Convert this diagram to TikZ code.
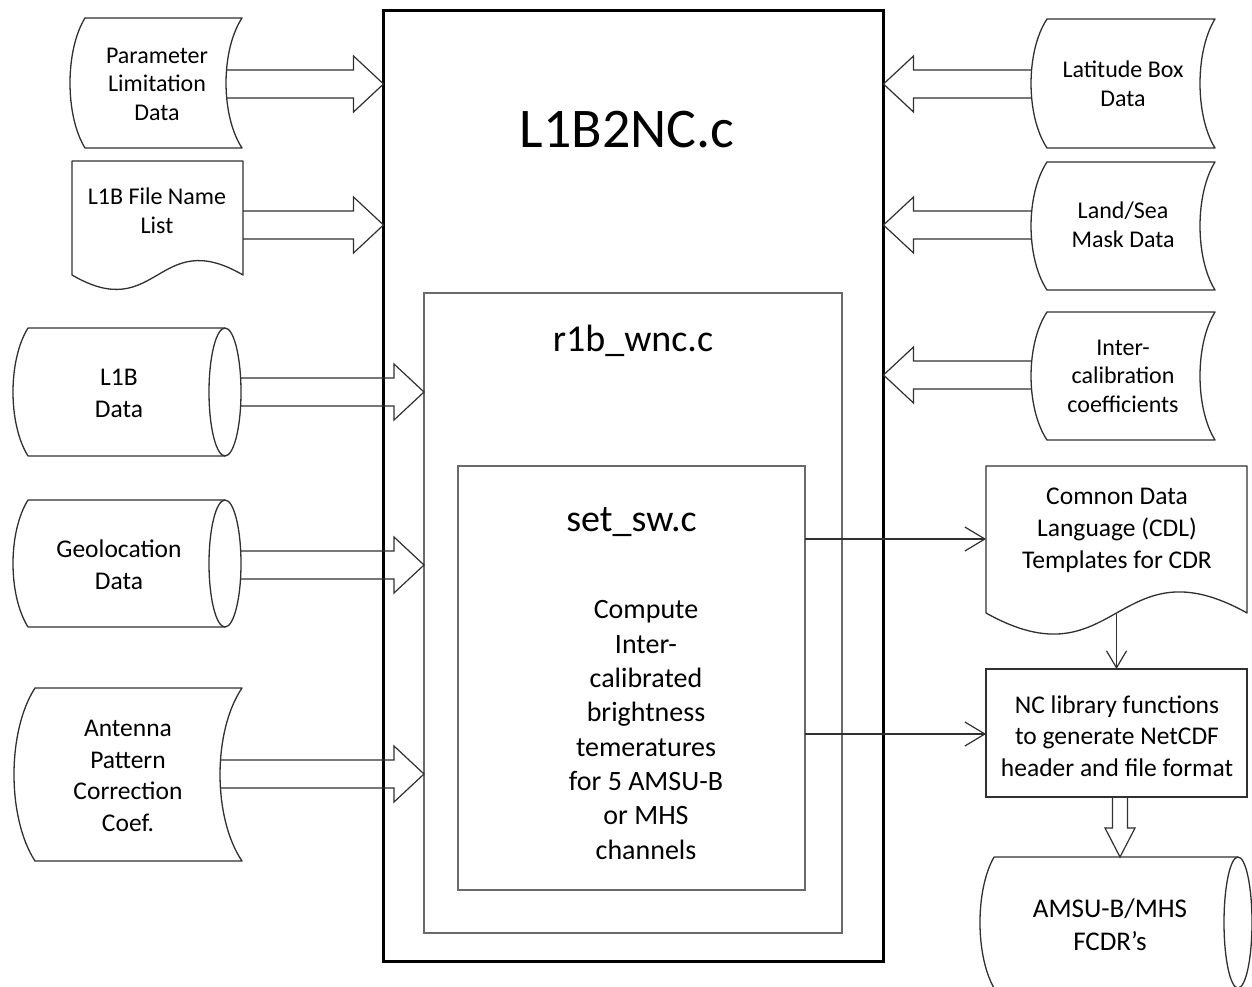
\documentclass[tikz,border=0pt]{standalone}
\usepackage{fontspec}
\setmainfont{Carlito}
\usetikzlibrary{arrows.meta,calc}
\definecolor{lineg}{HTML}{303030}
\definecolor{boxg}{HTML}{6A6A6A}
\tikzset{
  shp/.style={draw=lineg, line width=1.3pt, line join=round},
  txt/.style={align=center, inner sep=0pt, text=black},
  fa/.style={font=\fontsize{24}{28.5}\selectfont},
  fb/.style={font=\fontsize{25.5}{32}\selectfont},
  blockR/.style={draw=lineg, line width=1.2pt, line join=miter, to path={let \p1=(\tikztostart), \p2=(\tikztotarget) in
     (\x1,\y1+14pt) -- (\x2-30pt,\y1+14pt) -- (\x2-30pt,\y1+28pt) -- (\x2,\y1) -- (\x2-30pt,\y1-28pt) -- (\x2-30pt,\y1-14pt) -- (\x1,\y1-14pt)}},
  blockL/.style={draw=lineg, line width=1.2pt, line join=miter, to path={let \p1=(\tikztostart), \p2=(\tikztotarget) in
     (\x1,\y1+14pt) -- (\x2+30pt,\y1+14pt) -- (\x2+30pt,\y1+28pt) -- (\x2,\y1) -- (\x2+30pt,\y1-28pt) -- (\x2+30pt,\y1-14pt) -- (\x1,\y1-14pt)}},
  blockD/.style={draw=lineg, line width=1.2pt, line join=miter, to path={let \p1=(\tikztostart), \p2=(\tikztotarget) in
     (\x1+7.5pt,\y1) -- (\x1+7.5pt,\y2+29pt) -- (\x1+15pt,\y2+29pt) -- (\x1,\y2) -- (\x1-15pt,\y2+29pt) -- (\x1-7.5pt,\y2+29pt) -- (\x1-7.5pt,\y1)}},
  thinarr/.style={draw=lineg, line width=1.2pt, -{Straight Barb[length=20pt,width=24pt,line width=1.2pt]}},
  thinarrd/.style={draw=lineg, line width=1.2pt, -{Straight Barb[length=17pt,width=20pt,line width=1.2pt]}},
}
\begin{document}
\begin{tikzpicture}[x=1pt,y=-1pt]
\useasboundingbox (0,0) rectangle (1252,987);
\clip (0,0) rectangle (1252,987);
\fill[white] (0,0) rectangle (1252,987);

% main boxes
\node[draw=black, line width=3pt, minimum width=500pt, minimum height=950pt, outer sep=0pt, inner sep=0pt] (main) at (633.5,486) {};
\node[draw=boxg, line width=2pt, minimum width=418pt, minimum height=640pt, outer sep=0pt, inner sep=0pt] (r1b) at (633,613) {};
\node[draw=boxg, line width=2pt, minimum width=347pt, minimum height=424pt, outer sep=0pt, inner sep=0pt] (setsw) at (631.5,677.5) {};
\node[txt, font=\fontsize{56}{62}\selectfont] (tmain) at (627,130) {L1B2NC.c};
\node[txt, font=\fontsize{38}{44}\selectfont] (tr1b) at (633,341) {r1b\_wnc.c};
\node[txt, font=\fontsize{38}{44}\selectfont] (tsetsw) at (631.5,522) {set\_sw.c};
\node[txt, font=\fontsize{28}{34.3}\selectfont] (tcomp) at (646,730) {Compute\\Inter-\\calibrated\\brightness\\temeratures\\for 5 AMSU-B\\or MHS\\channels};

% left shapes
\draw[shp] (85,18) -- (242,18) .. controls (220.7,50.5) and (220.7,115.5) .. (242,148) -- (85,148) .. controls (65,115.5) and (65,50.5) .. (85,18) -- cycle;
\node[txt, fa] (par) at (157,84) {Parameter\\Limitation\\Data};
\draw[shp] (72,161) -- (243,161) -- (243,275) .. controls (157.5,225) and (157.5,325) .. (72,275) -- cycle;
\node[txt, fa] (l1bf) at (157,211) {L1B File Name\\List};
\draw[shp] (28,328) -- (225,328) (28,456) -- (225,456)
  (28,328) .. controls (8,360) and (8,424) .. (28,456);
\draw[shp] (225,392) ellipse [x radius=16, y radius=64];
\node[txt, fb] (l1bd) at (119,393) {L1B\\Data};
\draw[shp] (28,500) -- (225,500) (28,627) -- (225,627)
  (28,500) .. controls (8,532) and (8,595) .. (28,627);
\draw[shp] (225,563.5) ellipse [x radius=16, y radius=63.5];
\node[txt, fb] (geo) at (119,565) {Geolocation\\Data};
\draw[shp] (35,688) -- (242,688) .. controls (212.7,731.25) and (212.7,817.75) .. (242,861) -- (35,861) .. controls (7,817.75) and (7,731.25) .. (35,688) -- cycle;
\node[txt, font=\fontsize{25.5}{31.7}\selectfont] (ant) at (128,776) {Antenna\\Pattern\\Correction\\Coef.};

% right shapes
\draw[shp] (1047,19) -- (1215,19) .. controls (1195,51.25) and (1195,115.75) .. (1215,148) -- (1047,148) .. controls (1025.7,115.75) and (1025.7,51.25) .. (1047,19) -- cycle;
\node[txt, fa] (lat) at (1123,84) {Latitude Box\\Data};
\draw[shp] (1047,162) -- (1215,162) .. controls (1195,194) and (1195,258) .. (1215,290) -- (1047,290) .. controls (1025.7,258) and (1025.7,194) .. (1047,162) -- cycle;
\node[txt, fa] (land) at (1123,225) {Land/Sea\\Mask Data};
\draw[shp] (1047,312) -- (1215,312) .. controls (1195,344) and (1195,408) .. (1215,440) -- (1047,440) .. controls (1025.7,408) and (1025.7,344) .. (1047,312) -- cycle;
\node[txt, fa] (inter) at (1123,376) {Inter-\\calibration\\coefficients};

\draw[shp] (986,466) -- (1247,466) -- (1247,613) .. controls (1116.5,540) and (1116.5,686) .. (986,613) -- cycle;
\node[txt, fb] (cdl) at (1117,530) {Comnon Data\\Language (CDL)\\Templates for CDR};
\node[draw=lineg, line width=1.3pt, minimum width=261pt, minimum height=128pt, outer sep=0pt, inner sep=0pt] (nc) at (1116.5,733) {};
\node[txt, font=\fontsize{25.5}{31.5}\selectfont] (nctxt) at (1117,736) {NC library functions\\to generate NetCDF\\header and file format};
\draw[shp] (994,857) -- (1238,857) (994,988) -- (1238,988)
  (994,857) .. controls (975.3,890) and (975.3,955) .. (994,988);
\draw[shp] (1238,922.5) ellipse [x radius=14, y radius=65.5];
\node[txt, font=\fontsize{27}{33}\selectfont] (amsu) at (1110,925) {AMSU-B/MHS\\FCDR’s};

% connector end points
\coordinate (par-o) at (226,84);
\coordinate (l1bf-o) at (243,225);
\coordinate (l1bd-o) at (241,392);
\coordinate (geo-o) at (241,565);
\coordinate (ant-o) at (220,774);
\coordinate (lat-o) at (1031,84);
\coordinate (land-o) at (1031,225);
\coordinate (inter-o) at (1031,375);
\coordinate (cdl-in) at (986,539);
\coordinate (cdl-o) at (1116.5,614);
\coordinate (sw-o1) at (setsw.east |- cdl-in);
\coordinate (sw-o2) at (805,734);
\coordinate (nc-o) at (1120,797);
\coordinate (amsu-in) at (1120,857);

% connectors
\draw[blockR] (par-o) to (main.west |- par-o);
\draw[blockR] (l1bf-o) to (main.west |- l1bf-o);
\draw[blockR] (l1bd-o) to (r1b.west |- l1bd-o);
\draw[blockR] (geo-o) to (r1b.west |- geo-o);
\draw[blockR] (ant-o) to (r1b.west |- ant-o);
\draw[blockL] (lat-o) to (main.east |- lat-o);
\draw[blockL] (land-o) to (main.east |- land-o);
\draw[blockL] (inter-o) to (main.east |- inter-o);
\draw[thinarr] (sw-o1) -- (cdl-in);
\draw[thinarr] (sw-o2) -- (sw-o2 -| nc.west);
\draw[thinarrd] (cdl-o) -- (cdl-o |- nc.north);
\draw[blockD] (nc-o) to (amsu-in);
\end{tikzpicture}
\end{document}
